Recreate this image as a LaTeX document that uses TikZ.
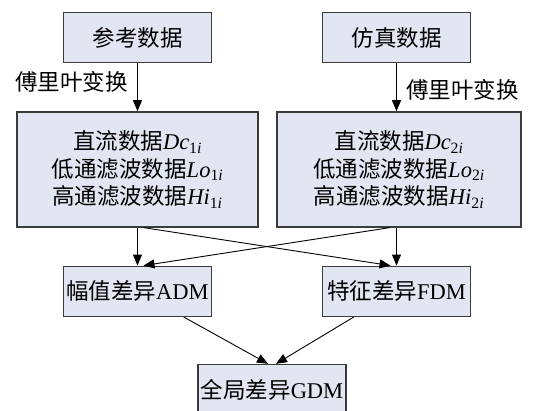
\documentclass[tikz,border=0pt]{standalone}
\usepackage{fontspec}
\setmainfont{Liberation Serif}
\newfontfamily\cjk{Noto Sans CJK SC}
\usetikzlibrary{arrows.meta,positioning}
\definecolor{boxfill}{RGB}{226,230,242}
\definecolor{boxline}{RGB}{60,60,60}
\newcommand{\zh}[1]{{\cjk #1}}
\newcommand{\sub}[2]{\textit{#1}\textsubscript{#2\textit{i}}}

\begin{document}
\begin{tikzpicture}[x=1pt,y=1pt,->,>={Triangle[length=11pt,width=9pt]},line width=0.9pt,
  font=\fontsize{22.5}{27.5}\selectfont]

  \tikzstyle{box}=[draw=boxline,line width=1.4pt,fill=boxfill,text=black,inner sep=0pt,
    minimum height=50pt,minimum width=148pt,align=center]

  \useasboundingbox[fill=white] (0,0) rectangle (533,-411);

  \node[box]              (ref)  at (137.5,-37.5)  {\zh{参考数据}};
  \node[box]              (sim)  at (396.5,-37.5)  {\zh{仿真数据}};
  \node[box,minimum width=241pt,minimum height=115pt] (mid1) [below=48pt of ref]
    {\zh{直流数据}\sub{Dc}{1}\\\zh{低通滤波数据}\sub{Lo}{1}\\\zh{高通滤波数据}\sub{Hi}{1}};
  \node[box,minimum width=244pt,minimum height=115pt] (mid2) [below=48pt of sim,xshift=2.5pt]
    {\zh{直流数据}\sub{Dc}{2}\\\zh{低通滤波数据}\sub{Lo}{2}\\\zh{高通滤波数据}\sub{Hi}{2}};
  \node[box]              (adm)  [below=38pt of mid1] {\zh{幅值差异}ADM};
  \node[box]              (fdm)  [below=38pt of mid2,xshift=-2.5pt] {\zh{特征差异}FDM};
  \node[box]              (gdm)  at (272,-389.5) {\zh{全局差异}GDM};

  \path (ref) edge node[left=6pt,pos=0.38] {\zh{傅里叶变换}} (mid1)
        (sim) edge node[right=6pt,pos=0.55] {\zh{傅里叶变换}} (sim |- mid2.north)

        (mid1) edge (adm)
        ([xshift=6pt]mid1.south) edge ([xshift=-6pt]fdm.north)
        (fdm |- mid2.south) edge (fdm)
        ([xshift=-9pt]mid2.south) edge ([xshift=6pt]adm.north)

        (adm) edge ([xshift=-4pt]gdm.north)
        (fdm) edge ([xshift=4pt]gdm.north)
  ;
\end{tikzpicture}
\end{document}
